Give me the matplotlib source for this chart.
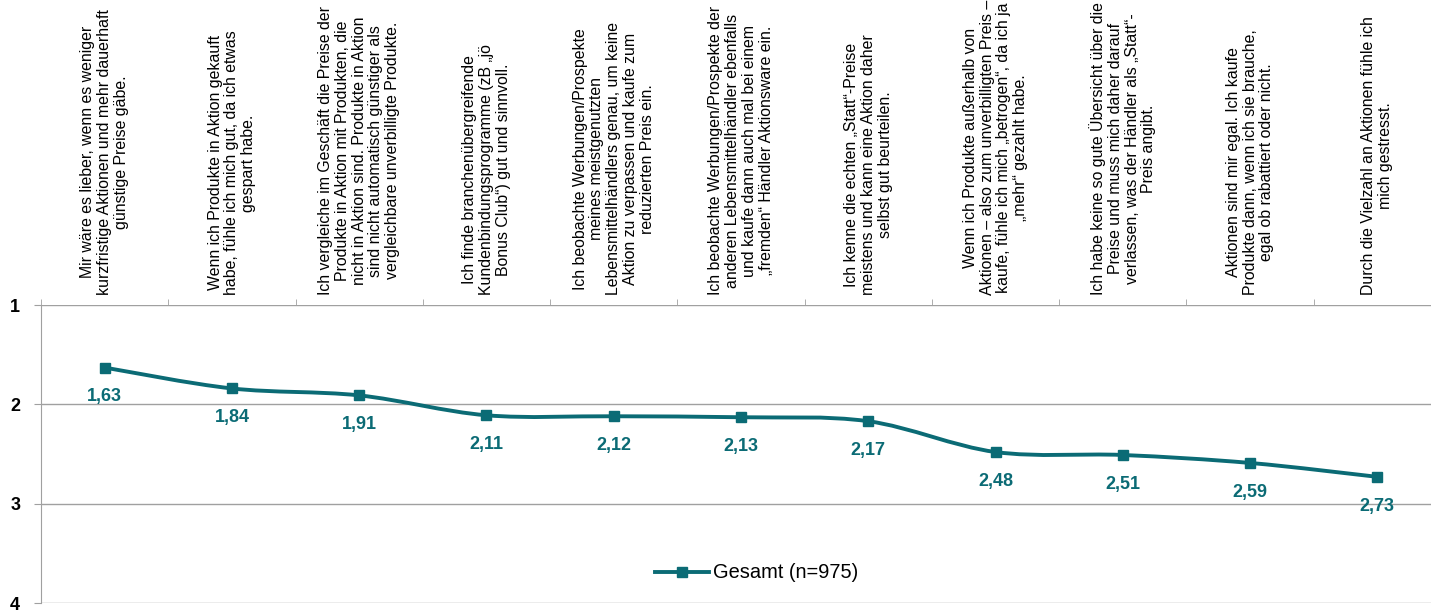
import matplotlib.pyplot as plt
from matplotlib.path import Path
from matplotlib.patches import PathPatch

plt.rcParams['font.family'] = ['Liberation Sans', 'DejaVu Sans']

# survey statements (top labels) and mean scores
statements = [
    "Mir wäre es lieber, wenn es weniger\nkurzfristige Aktionen und mehr dauerhaft\ngünstige Preise gäbe.",
    "Wenn ich Produkte in Aktion gekauft\nhabe, fühle ich mich gut, da ich etwas\ngespart habe.",
    "Ich vergleiche im Geschäft die Preise der\nProdukte in Aktion mit Produkten, die\nnicht in Aktion sind. Produkte in Aktion\nsind nicht automatisch günstiger als\nvergleichbare unverbilligte Produkte.",
    "Ich finde branchenübergreifende\nKundenbindungsprogramme (zB „jö\nBonus Club“) gut und sinnvoll.",
    "Ich beobachte Werbungen/Prospekte\nmeines meistgenutzten\nLebensmittelhändlers genau, um keine\nAktion zu verpassen und kaufe zum\nreduzierten Preis ein.",
    "Ich beobachte Werbungen/Prospekte der\nanderen Lebensmittelhändler ebenfalls\nund kaufe dann auch mal bei einem\n„fremden“ Händler Aktionsware ein.",
    "Ich kenne die echten „Statt“-Preise\nmeistens und kann eine Aktion daher\nselbst gut beurteilen.",
    "Wenn ich Produkte außerhalb von\nAktionen – also zum unverbilligten Preis –\nkaufe, fühle ich mich „betrogen“, da ich ja\n„mehr“ gezahlt habe.",
    "Ich habe keine so gute Übersicht über die\nPreise und muss mich daher darauf\nverlassen, was der Händler als „Statt“-\nPreis angibt.",
    "Aktionen sind mir egal. Ich kaufe\nProdukte dann, wenn ich sie brauche,\negal ob rabattiert oder nicht.",
    "Durch die Vielzahl an Aktionen fühle ich\nmich gestresst.",
]
scores = [1.63, 1.84, 1.91, 2.11, 2.12, 2.13, 2.17, 2.48, 2.51, 2.59, 2.73]
series_name = "Gesamt (n=975)"
y_ticks = [1, 2, 3, 4]

teal = "#0B6B75"
grid_grey = "#A0A0A0"

fig = plt.figure(figsize=(14.31, 6.11), dpi=100)
ax = fig.add_axes([41 / 1431, 8 / 611, 1400 / 1431, 298 / 611])

x = list(range(len(scores)))

# smoothed line: cubic bezier segments (Excel-style smoothing)
pts = list(zip(x, scores))
verts = [pts[0]]
codes = [Path.MOVETO]
n = len(pts)
for i in range(n - 1):
    p0 = pts[i - 1] if i > 0 else pts[i]
    p1 = pts[i]
    p2 = pts[i + 1]
    p3 = pts[i + 2] if i + 2 < n else pts[i + 1]
    c1 = (p1[0] + (p2[0] - p0[0]) / 6, p1[1] + (p2[1] - p0[1]) / 6)
    c2 = (p2[0] - (p3[0] - p1[0]) / 6, p2[1] - (p3[1] - p1[1]) / 6)
    verts += [c1, c2, p2]
    codes += [Path.CURVE4] * 3
ax.add_patch(PathPatch(Path(verts, codes), facecolor='none', edgecolor=teal,
                       lw=2.8, capstyle='round', zorder=3))
ax.plot(x, scores, linestyle='none', marker='s', markersize=6.5, color=teal, zorder=4)

# legend proxy
ax.plot([], [], color=teal, lw=2.8, marker='s', markersize=6.5, label=series_name)

for xi, v in zip(x, scores):
    ax.annotate(f"{v:.2f}".replace('.', ','), (xi, v), xytext=(0, -21),
                textcoords='offset points', ha='center', va='center',
                fontsize=13, fontweight='bold', color=teal, zorder=5)

ax.set_xlim(-0.5, len(scores) - 0.5)
ax.set_ylim(4, 1)
ax.set_yticks(y_ticks)
ax.set_yticklabels([str(t) for t in y_ticks], fontsize=13, fontweight='bold')
ax.yaxis.grid(True, color=grid_grey, lw=1.0)
ax.set_axisbelow(True)
ax.tick_params(axis='y', length=5, color=grid_grey, pad=10)

ax.xaxis.tick_top()
ax.set_xticks(x)
ax.set_xticklabels(statements, rotation=90, ha='center', va='bottom',
                   multialignment='center', fontsize=11.4, linespacing=1.15)
ax.tick_params(axis='x', which='major', length=0, pad=7)
ax.set_xticks([i - 0.5 for i in range(len(scores) + 1)], minor=True)
ax.tick_params(axis='x', which='minor', length=4, color=grid_grey, top=True, bottom=False)

for side in ('top', 'right', 'bottom'):
    ax.spines[side].set_visible(False)
ax.spines['left'].set_color(grid_grey)

fig.legend(loc='center', bbox_to_anchor=(757 / 1431, 1 - 573 / 611), frameon=False,
           fontsize=14.4, handlelength=2.7, handletextpad=0.2)

fig.savefig('out.png', dpi=100)
